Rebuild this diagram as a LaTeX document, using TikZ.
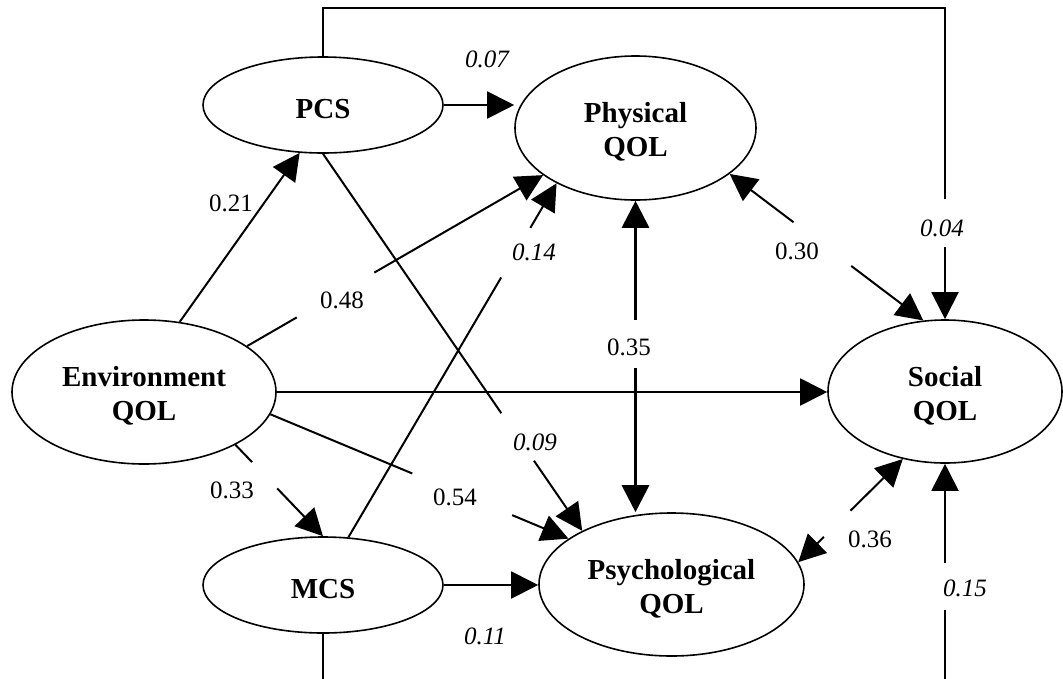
\documentclass[tikz,border=0pt]{standalone}
\usepackage{fontspec}
\setmainfont{Liberation Serif}
\usetikzlibrary{shapes.geometric,arrows.meta,calc}
\newcommand\myNodeFont{\fontsize{29}{34}\selectfont\bfseries}
\newcommand\myLabFont{\fontsize{25}{28}\selectfont}
\begin{document}
\begin{tikzpicture}[x=1pt,y=-1pt,
  lat/.style={draw, ellipse, line width=1.6pt, inner sep=0pt},
  ltext/.style={align=center, font=\myNodeFont, inner sep=0pt, yshift=-4pt},
  lab/.style={inner sep=1pt, font=\myLabFont},
  labi/.style={inner sep=1pt, font=\myLabFont\itshape},
  conn/.style={line width=2pt},
  arr/.style={conn, -{Triangle[length=27pt,width=27pt]}},
  arrb/.style={conn, {Triangle[length=27pt,width=27pt]}-}]
\fill[white] (0,0) rectangle (1063,678);
\useasboundingbox (0,0) rectangle (1063,678);
\clip (0,0) rectangle (1063,678);

% latent variables
\node[lat, minimum width=264pt, minimum height=144pt, label={[ltext]center:{Environment\\QOL}}] (env)  at (144,392) {};
\node[lat, minimum width=240pt, minimum height=96pt,  label={[ltext]center:{PCS}}] (pcs)  at (323,105) {};
\node[lat, minimum width=241pt, minimum height=144pt, label={[ltext]center:{Physical\\QOL}}] (phys) at (635.5,128) {};
\node[lat, minimum width=234pt, minimum height=143pt, label={[ltext]center:{Social\\QOL}}] (soc)  at (945,391.5) {};
\node[lat, minimum width=240pt, minimum height=96pt,  label={[ltext]center:{MCS}}] (mcs)  at (323,585) {};
\node[lat, minimum width=265pt, minimum height=143pt, label={[ltext]center:{Psychological\\QOL}}] (psy)  at (671.5,584.5) {};

% labels
\node[lab]  (l21) at (231,203) {0.21};
\node[labi] (l07) at (487,59)  {0.07};
\node[labi] (l04) at (942,228) {0.04};
\node[lab]  (l48) at (342,300) {0.48};
\node[labi] (l14) at (534,252) {0.14};
\node[lab]  (l30) at (797,251) {0.30};
\node[lab]  (l35) at (629,347) {0.35};
\node[lab]  (l33) at (232,490) {0.33};
\node[labi] (l09) at (535,442) {0.09};
\node[lab]  (l54) at (455,497) {0.54};
\node[lab]  (l36) at (870,539) {0.36};
\node[labi] (l11) at (485,636) {0.11};
\node[labi] (l15) at (965,588) {0.15};

% Environment -> PCS
\draw[arr] (env.63.4) -- (pcs.-116);
% PCS -> Physical
\draw[arr] (pcs.east) -- (pcs.east -| phys.west);
% Environment -> Social
\draw[arr] (env.east) -- (env.east -| soc.west);
% MCS -> Psychological
\draw[arr] (mcs.east) -- (mcs.east -| psy.west);

% Environment -> Physical (0.48)
\path (env.24.4) -- (phys.207.15) coordinate[pos=0.168] (g48a) coordinate[pos=0.43] (g48b);
\draw[conn] (env.24.4) -- (g48a);
\draw[arr] (g48b) -- (phys.207.15);

% Environment -> Psychological (0.54)
\path (env.-10.6) -- (psy.156.4) coordinate[pos=0.476] (g54a) coordinate[pos=0.811] (g54b);
\draw[conn] (env.-10.6) -- (g54a);
\draw[arr] (g54b) -- (psy.156.4);

% Environment -> MCS (0.33)
\path (env.-30.7) -- (mcs.north) coordinate[pos=0.19] (g33a) coordinate[pos=0.477] (g33b);
\draw[conn] (env.-30.7) -- (g33a);
\draw[arr] (g33b) -- (mcs.north);

% MCS -> Physical (0.14)
\path (mcs.62.5) -- (phys.215.3) coordinate[pos=0.734] (g14a) coordinate[pos=0.874] (g14b);
\draw[conn] (mcs.62.5) -- (g14a);
\draw[arr] (g14b) -- (phys.215.3);

% PCS -> Psychological (0.09)
\path (pcs.south) -- (psy.149.6) coordinate[pos=0.688] (g09a) coordinate[pos=0.814] (g09b);
\draw[conn] (pcs.south) -- (g09a);
\draw[arr] (g09b) -- (psy.149.6);

% Physical <-> Psychological (0.35)
\path (phys.south) -- (phys.south |- psy.north) coordinate[pos=0.383] (g35a) coordinate[pos=0.537] (g35b);
\draw[arrb, line width=3pt] (phys.south) -- (g35a);
\draw[arr, line width=3pt] (g35b) -- (phys.south |- psy.north);

% Physical <-> Social (0.30)
\path (phys.-26.9) -- (soc.107.1) coordinate[pos=0.33] (g30a) coordinate[pos=0.628] (g30b);
\draw[arrb] (phys.-26.9) -- (g30a);
\draw[arr] (g30b) -- (soc.107.1);

% Psychological <-> Social (0.36)
\path (psy.10.8) -- (soc.-122) coordinate[pos=0.245] (g36a) coordinate[pos=0.5] (g36b);
\draw[arrb] (psy.10.8) -- (g36a);
\draw[arr] (g36b) -- (soc.-122);

% PCS -> Social over the top (0.04)
\coordinate (g04a) at ($(soc.north)+(0,-120)$);
\coordinate (g04b) at ($(soc.north)+(0,-72)$);
\draw[conn] (pcs.north) -- ++(0,-48) -| (g04a);
\draw[arr] (g04b) -- (soc.north);

% MCS -> Social along the bottom (0.15)
\coordinate (g15a) at ($(soc.south)+(0,99)$);
\coordinate (g15b) at ($(soc.south)+(0,146)$);
\draw[conn] (mcs.south) -- ++(0,80) -| (g15b);
\draw[arr] (g15a) -- (soc.south);
\end{tikzpicture}
\end{document}
